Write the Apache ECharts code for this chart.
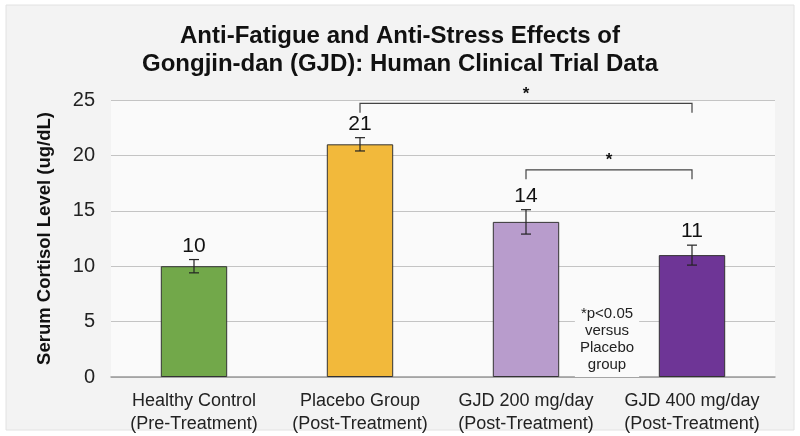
<!DOCTYPE html>
<meta charset="utf-8">
<style>
html, body { margin: 0; padding: 0; background: #fff; }
#main { width: 800px; height: 436px; }
</style>
<div id="main"></div>
<script src="https://cdn.jsdelivr.net/npm/echarts@6/dist/echarts.min.js"></script>
<script>

var categories = [
    'Healthy Control\n(Pre-Treatment)',
    'Placebo Group\n(Post-Treatment)',
    'GJD 200 mg/day\n(Post-Treatment)',
    'GJD 400 mg/day\n(Post-Treatment)'
];
var cortisol = [10, 21, 14, 11];
var errors = [0.6, 0.6, 1.1, 0.9];
var barColors = ['#72a84a', '#f2b93b', '#b89ccc', '#6e3596'];
// [from category, to category, bracket height, mark]
var brackets = [
    [1, 3, 24.7, '*'],
    [2, 3, 18.7, '*']
];
var footnote = '*p<0.05\nversus\nPlacebo\ngroup';

var sans = '"Liberation Sans", Arial, sans-serif';

var chart = echarts.init(document.getElementById('main'));

chart.setOption({
    backgroundColor: '#fff',
    animation: false,
    title: {
        text: 'Anti-Fatigue and Anti-Stress Effects of\nGongjin-dan (GJD): Human Clinical Trial Data',
        left: 'center',
        top: 17,
        textStyle: {
            fontFamily: sans,
            fontWeight: 'bold',
            fontSize: 24,
            lineHeight: 28,
            color: '#111'
        }
    },
    graphic: [
        {
            type: 'rect',
            z: -10,
            shape: { x: 6, y: 5, width: 788, height: 425 },
            style: { fill: '#f3f3f3', stroke: '#e2e2e2', lineWidth: 1 }
        },
        {
            type: 'text',
            x: 607,
            y: 301,
            z: 10,
            style: {
                text: footnote,
                fill: '#222',
                font: '15px ' + sans,
                lineHeight: 17,
                align: 'center',
                verticalAlign: 'top',
                backgroundColor: '#fafafa',
                padding: [4, 5, 4, 5]
            }
        }
    ],
    grid: {
        left: 111,
        right: 25,
        top: 100,
        bottom: 59,
        show: true,
        backgroundColor: '#fafafa',
        borderWidth: 0
    },
    xAxis: {
        type: 'category',
        data: categories,
        axisTick: { show: false },
        axisLine: { lineStyle: { color: '#999', width: 1.5 } },
        axisLabel: {
            interval: 0,
            margin: 13,
            fontFamily: sans,
            fontSize: 18,
            lineHeight: 23,
            color: '#222'
        }
    },
    yAxis: {
        type: 'value',
        min: 0,
        max: 25,
        interval: 5,
        name: 'Serum Cortisol Level (ug/dL)',
        nameLocation: 'middle',
        nameGap: 57,
        nameTextStyle: {
            fontFamily: sans,
            fontWeight: 'bold',
            fontSize: 18.5,
            color: '#111'
        },
        axisLine: { show: false },
        axisTick: { show: false },
        axisLabel: {
            margin: 16,
            fontFamily: sans,
            fontSize: 20,
            color: '#222'
        },
        splitLine: { lineStyle: { color: '#c4c4c4', width: 1 } }
    },
    series: [
        {
            type: 'bar',
            barWidth: '40%',
            data: cortisol.map(function (v, i) {
                return {
                    value: v,
                    itemStyle: { color: barColors[i], borderColor: '#333', borderWidth: 1 }
                };
            })
        },
        {
            type: 'custom',
            z: 5,
            data: cortisol.map(function (v, i) { return [i, v - errors[i], v + errors[i], v]; }),
            renderItem: function (params, api) {
                var x = api.value(0);
                var lo = api.coord([x, api.value(1)]);
                var hi = api.coord([x, api.value(2)]);
                var cap = 5;
                var style = { stroke: '#222', lineWidth: 1.2 };
                return {
                    type: 'group',
                    children: [
                        { type: 'line', shape: { x1: hi[0], y1: hi[1], x2: lo[0], y2: lo[1] }, style: style },
                        { type: 'line', shape: { x1: hi[0] - cap, y1: hi[1], x2: hi[0] + cap, y2: hi[1] }, style: style },
                        { type: 'line', shape: { x1: lo[0] - cap, y1: lo[1], x2: lo[0] + cap, y2: lo[1] }, style: style },
                        {
                            type: 'text',
                            style: {
                                text: String(api.value(3)),
                                x: hi[0],
                                y: hi[1] - 3,
                                align: 'center',
                                verticalAlign: 'bottom',
                                fill: '#111',
                                font: '21px ' + sans
                            }
                        }
                    ]
                };
            }
        },
        {
            type: 'custom',
            z: 5,
            data: brackets,
            renderItem: function (params, api) {
                var a = api.coord([api.value(0), api.value(2)]);
                var b = api.coord([api.value(1), api.value(2)]);
                var drop = api.coord([api.value(0), api.value(2) - 0.85])[1];
                var style = { stroke: '#444', lineWidth: 1.2, fill: 'none' };
                return {
                    type: 'group',
                    children: [
                        {
                            type: 'polyline',
                            shape: { points: [[a[0], drop], [a[0], a[1]], [b[0], b[1]], [b[0], drop]] },
                            style: style
                        },
                        {
                            type: 'text',
                            style: {
                                text: brackets[params.dataIndex][3],
                                x: (a[0] + b[0]) / 2,
                                y: a[1] - 1,
                                align: 'center',
                                verticalAlign: 'bottom',
                                fill: '#111',
                                font: 'bold 17px ' + sans
                            }
                        }
                    ]
                };
            }
        }
    ]
});

</script>
